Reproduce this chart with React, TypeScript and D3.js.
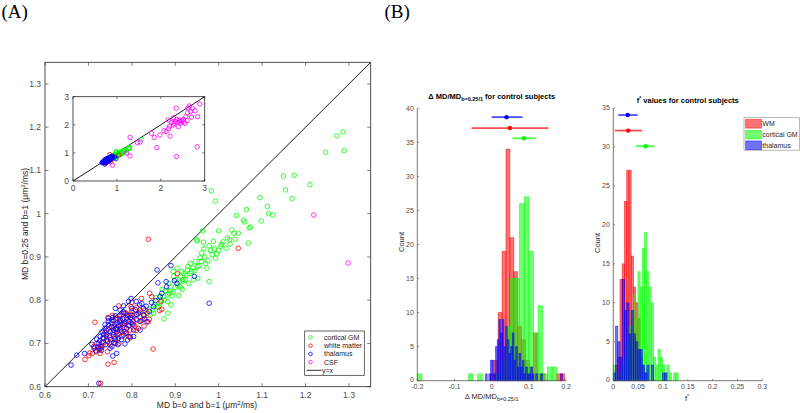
import React from 'react';
import * as d3 from 'd3';

type P = [number, number];

// ---------- Panel A: MD scatter data ----------
const corticalGM: P[] = [
  [1.286,1.189],[1.272,1.180],[1.289,1.146],[1.246,1.142],[1.174,1.089],[1.149,1.087],[1.210,1.067],[1.154,1.055],
  [1.169,1.035],[1.095,1.037],[0.983,1.053],[0.992,1.029],[1.112,1.017],[1.064,1.010],[1.115,1.000],[1.125,0.997],
  [1.041,0.996],[1.057,0.985],[1.060,0.981],[1.098,0.983],[1.073,0.969],[1.070,0.967],[1.000,0.960],[0.963,0.960],
  [1.030,0.962],[1.045,0.955],[1.068,0.932],[0.949,0.940],[0.988,0.936],[1.020,0.944],[1.038,0.941],[1.026,0.930],
  [1.017,0.920],[1.007,0.929],[0.978,0.926],[0.966,0.919],[0.981,0.915],[0.961,0.909],[0.995,0.908],[1.000,0.915],
  [0.957,0.898],[0.975,0.891],[0.993,0.897],[0.946,0.889],[0.935,0.885],[0.973,0.874],[0.952,0.878],[0.929,0.878],
  [0.915,0.867],[0.938,0.866],[0.925,0.858],[0.952,0.851],[0.912,0.855],[0.901,0.848],[0.978,0.843],[0.917,0.844],
  [0.906,0.833],[0.887,0.830],[0.916,0.825],[0.895,0.819],[0.908,0.811],[0.886,0.816],[0.877,0.822],[0.872,0.808],
  [0.882,0.797],[0.865,0.793],[0.855,0.806],[0.890,0.789],[0.862,0.785],[0.848,0.777],[0.883,0.770],[0.874,0.757],
  [0.840,0.780],[0.842,0.766],[0.828,0.764],[0.852,0.791],[0.870,0.825],[0.923,0.847],[0.931,0.839],[0.942,0.847],
  [0.951,0.937],[0.965,0.934],[0.896,0.855],[0.885,0.839],[0.889,0.822],[0.893,0.810],[0.900,0.830],[0.910,0.842],
  [0.920,0.862],[0.928,0.870],[0.934,0.862],[0.940,0.875],[0.945,0.868],[0.955,0.880],[0.960,0.890],[0.968,0.900],
  [0.970,0.885],[0.985,0.905],[0.990,0.920],[1.005,0.925],[1.010,0.935],[1.025,0.940],[1.035,0.955],[0.875,0.800],
  [0.882,0.812],[0.868,0.800],[0.858,0.785],[0.850,0.770],[0.865,0.810],[0.895,0.867],[0.904,0.874],[0.912,0.830],
  [0.918,0.848],[1.56,1.48],
];

const whiteMatter: P[] = [
  [0.838,0.941],[1.045,0.920],[0.905,0.861],[0.849,0.687],[0.715,0.749],[0.759,0.656],[0.745,0.652],[0.728,0.608],
  [0.692,0.663],[0.701,0.672],[0.709,0.677],[0.718,0.681],[0.725,0.685],[0.728,0.693],[0.744,0.681],[0.770,0.787],
  [0.841,0.816],[0.846,0.808],[0.867,0.797],[0.869,0.779],[0.864,0.776],[0.828,0.765],[0.840,0.756],[0.822,0.753],
  [0.838,0.750],[0.828,0.740],[0.798,0.785],[0.800,0.774],[0.810,0.767],[0.822,0.804],[0.785,0.750],[0.775,0.743],
  [0.782,0.737],[0.767,0.733],[0.758,0.754],[0.770,0.723],[0.777,0.716],[0.758,0.720],[0.749,0.714],[0.742,0.708],
  [0.735,0.702],[0.762,0.708],[0.770,0.700],[0.788,0.723],[0.796,0.731],[0.804,0.743],[0.812,0.754],[0.815,0.735],
  [0.794,0.764],[0.785,0.770],[0.775,0.764],[0.763,0.759],[0.754,0.739],[0.719,0.700],[0.712,0.693],[0.727,0.677],
  [0.750,0.696],[0.792,0.716],[0.800,0.759],[0.819,0.777],[0.835,0.770],[0.738,0.726],[0.745,0.733],[0.753,0.745],
  [0.758,0.738],[0.764,0.726],[0.767,0.748],[0.773,0.735],[0.778,0.745],[0.784,0.728],[0.789,0.754],[0.792,0.741],
  [0.797,0.768],[0.803,0.752],[0.807,0.740],[0.811,0.783],[0.818,0.772],[0.825,0.755],[0.830,0.777],[0.761,0.711],
  [0.749,0.702],[0.741,0.717],[0.733,0.695],[0.724,0.688],[0.715,0.692],[0.703,0.678],[0.787,0.770],[0.800,0.795],
  [0.755,0.765],[0.745,0.760],[0.773,0.758],[0.796,0.713],[0.810,0.730],
];

const thalamus: P[] = [
  [0.858,0.870],[0.890,0.880],[0.879,0.843],[0.880,0.831],[0.904,0.839],[0.944,0.855],[0.978,0.793],[0.869,0.816],
  [0.865,0.808],[0.855,0.799],[0.850,0.785],[0.840,0.774],[0.827,0.781],[0.818,0.789],[0.810,0.797],[0.800,0.781],
  [0.792,0.797],[0.781,0.787],[0.773,0.777],[0.782,0.770],[0.788,0.758],[0.773,0.754],[0.765,0.747],[0.762,0.764],
  [0.754,0.754],[0.746,0.743],[0.738,0.735],[0.731,0.727],[0.727,0.716],[0.735,0.712],[0.742,0.721],[0.750,0.727],
  [0.758,0.731],[0.765,0.735],[0.773,0.731],[0.781,0.743],[0.788,0.735],[0.798,0.747],[0.804,0.731],[0.812,0.767],
  [0.819,0.751],[0.796,0.716],[0.781,0.720],[0.769,0.712],[0.762,0.700],[0.750,0.689],[0.765,0.677],[0.756,0.671],
  [0.729,0.689],[0.723,0.700],[0.719,0.710],[0.731,0.702],[0.713,0.689],[0.708,0.698],[0.691,0.677],[0.673,0.673],
  [0.660,0.650],[0.724,0.608],[0.804,0.716],[0.790,0.708],[0.819,0.731],[0.827,0.766],[0.835,0.750],[0.798,0.804],
  [0.762,0.781],[0.746,0.758],[0.735,0.721],[0.741,0.730],[0.748,0.718],[0.752,0.738],[0.757,0.726],[0.761,0.745],
  [0.766,0.719],[0.769,0.740],[0.772,0.750],[0.776,0.728],[0.779,0.757],[0.783,0.746],[0.786,0.724],[0.789,0.765],
  [0.793,0.752],[0.744,0.705],[0.751,0.709],[0.759,0.702],[0.763,0.733],[0.738,0.744],[0.733,0.713],[0.726,0.706],
  [0.746,0.752],[0.756,0.760],[0.771,0.764],[0.781,0.773],[0.797,0.760],[0.802,0.745],[0.808,0.778],[0.815,0.770],
  [0.823,0.792],[0.833,0.786],[0.845,0.795],[0.754,0.693],[0.768,0.697],[0.739,0.697],[0.722,0.692],[0.717,0.683],
  [0.730,0.684],[0.776,0.709],[0.784,0.699],[0.794,0.741],[0.761,0.715],[0.800,0.765],[0.810,0.756],[0.829,0.757],
  [0.860,0.840],[0.898,0.845],
];

const CSF: P[] = [
  [1.219,0.997],[1.298,0.886],[2.35,2.59],[1.30,1.55],[1.47,1.36],[1.53,1.39],[1.79,1.70],[1.85,1.55],[1.91,1.19],
  [1.98,1.64],[2.07,1.79],[2.12,1.76],[2.18,1.87],[2.21,1.60],[2.25,2.08],[2.29,1.99],[2.33,2.11],[2.36,2.19],
  [2.39,2.08],[2.42,2.17],[2.45,2.05],[2.48,2.14],[2.51,2.19],[2.55,2.05],[2.57,2.29],[2.61,2.43],[2.65,2.67],
  [2.68,2.47],[2.72,2.59],[2.78,2.50],[2.84,2.29],[2.89,2.74],[2.83,1.22],[2.36,0.87],[2.29,2.25],[2.40,1.93],
  [2.70,2.27],[2.17,2.17],[0.90,0.56],[2.44,2.12],[2.52,2.10],[2.60,2.15],[2.30,2.05],[2.20,1.95],[2.62,2.60],
];

const mainTicks = [0.6, 0.7, 0.8, 0.9, 1, 1.1, 1.2, 1.3];
const insetTicks = [0, 1, 2, 3];
const legendA = ['cortical GM', 'white matter', 'thalamus', 'CSF', 'y=x'];

// ---------- Panel B: histograms ----------
// left: ΔMD/MD
const dRedStart = -0.0035, dRedWidth = 0.0105;
const dRedCounts = [1,3,10,19,34,21,16,8,6,3,2,7,1,1,0,0,0,1,1];
const dGreenStart = -0.2, dGreenWidth = 0.0125;
const dGreenCounts = [1,0,0,0,0,0,0,0,0,0,0,1,0,1,0,0,0,1,3,8,15,15,26,27,19,7,11,1,2,2,0,0];
const dBlueStart = -0.0165, dBlueWidth = 0.0045;
const dBlueCounts = [1,0,1,3,3,1,5,6,9,7,9,5,8,6,4,5,7,3,5,2,4,2,3,1,2,1,1,2,1,0,1,0,0,1,0,0,0,0,0,0,0,0,0,0,0,1];
// mean ± sd markers: [mean, lo, hi, yLevel]
const dRedSummary = [0.049, -0.054, 0.153, 37.1];
const dGreenSummary = [0.087, 0.056, 0.119, 35.6];
const dBlueSummary = [0.040, 0.0, 0.083, 38.7];
const dXTicks = [-0.2, -0.1, 0, 0.1, 0.2];
const dYTicks = [0, 5, 10, 15, 20, 25, 30, 35, 40];

// right: f*
const fStart = 0, fWidth = 0.0045;
const fRedCounts = [0,2,3,13,15,23,27,27,16,12,10,8,3,2,1];
const fGreenCounts = [2,1,0,1,2,3,5,7,9,11,8,14,12,17,19,14,12,10,3,2,4,3,2,1,2,1,0,1,1];
const fBlueCounts = [1,7,5,3,13,9,10,6,9,6,5,4,4,2,1,2,0,2,0,0,0,0,1,1];
const fRedSummary = [0.030, 0.003, 0.058, 32.1];
const fGreenSummary = [0.065, 0.045, 0.083, 30.1];
const fBlueSummary = [0.029, 0.010, 0.049, 34.1];
const fXTicks = [0, 0.05, 0.1, 0.15, 0.2, 0.25, 0.3];
const fYTicks = [0, 5, 10, 15, 20, 25, 30, 35];
const legendB = ['WM', 'cortical GM', 'thalamus'];

const FONT = '"Liberation Sans", Arial, Helvetica, sans-serif';
const AX = '#262626';
const TICKC = '#4d4d4d';
const C = { g: '#00ff00', r: '#ff0000', b: '#0000ff', m: '#ff00ff' };

const fmt = (v: number) => String(+v.toFixed(2));

function Scatter({ pts, color, xs, ys, r }: any) {
  return (
    <g>
      {pts.map((p: P, i: number) => (
        <circle key={i} cx={xs(p[0])} cy={ys(p[1])} r={r} fill="none" stroke={color} strokeWidth={0.8} />
      ))}
    </g>
  );
}

function BoxAxes({ xs, ys, xt, yt, tickLen, fs, xlabOff, ylabOff }: any) {
  const [x0, x1] = xs.range();
  const [y0, y1] = ys.range();
  return (
    <g fontFamily={FONT} fontSize={fs} fill={TICKC}>
      {xt.map((t: number) => (
        <g key={'x' + t}>
          <line x1={xs(t)} x2={xs(t)} y1={y0} y2={y0 - tickLen} stroke={AX} strokeWidth={0.6} />
          <line x1={xs(t)} x2={xs(t)} y1={y1} y2={y1 + tickLen} stroke={AX} strokeWidth={0.6} />
          <text x={xs(t)} y={y0 + xlabOff} textAnchor="middle">{fmt(t)}</text>
        </g>
      ))}
      {yt.map((t: number) => (
        <g key={'y' + t}>
          <line x1={x0} x2={x0 + tickLen} y1={ys(t)} y2={ys(t)} stroke={AX} strokeWidth={0.6} />
          <line x1={x1} x2={x1 - tickLen} y1={ys(t)} y2={ys(t)} stroke={AX} strokeWidth={0.6} />
          <text x={x0 - ylabOff} y={ys(t)} dy="0.35em" textAnchor="end">{fmt(t)}</text>
        </g>
      ))}
      <rect x={x0} y={y1} width={x1 - x0} height={y0 - y1} fill="none" stroke={AX} strokeWidth={0.8} />
    </g>
  );
}

function Hist({ start, width, counts, color, xs, ys }: any) {
  return (
    <g>
      {counts.map((c: number, i: number) => {
        const a = xs(start + i * width);
        const b = xs(start + (i + 1) * width);
        return (
          <rect key={i} x={a} y={ys(c)} width={b - a} height={ys(0) - ys(c)}
            fill={color} fillOpacity={0.55} stroke={color} strokeOpacity={0.6} strokeWidth={0.8} />
        );
      })}
    </g>
  );
}

function Summary({ s, color, xs, ys }: any) {
  const [m, lo, hi, lev] = s;
  return (
    <g>
      <line x1={xs(lo)} x2={xs(hi)} y1={ys(lev)} y2={ys(lev)} stroke={color} strokeOpacity={0.7} strokeWidth={1.8} />
      <circle cx={xs(m)} cy={ys(lev)} r={2.2} fill={color} />
    </g>
  );
}

function HistAxes({ xs, ys, xt, yt }: any) {
  const [x0, x1] = xs.range();
  const [y0, y1] = ys.range();
  return (
    <g fontFamily={FONT} fontSize={7} fill={TICKC}>
      <line x1={x0} x2={x0} y1={y0} y2={y1} stroke="#555" strokeWidth={0.8} />
      <line x1={x0} x2={x1} y1={y0} y2={y0} stroke="#555" strokeWidth={0.8} />
      {xt.map((t: number) => (
        <g key={'x' + t}>
          <line x1={xs(t)} x2={xs(t)} y1={y0} y2={y0 - 2} stroke="#555" strokeWidth={0.6} />
          <text x={xs(t)} y={y0 + 8.5} textAnchor="middle">{fmt(t)}</text>
        </g>
      ))}
      {yt.map((t: number) => (
        <g key={'y' + t}>
          <line x1={x0} x2={x0 + 2} y1={ys(t)} y2={ys(t)} stroke="#555" strokeWidth={0.6} />
          <text x={x0 - 3.5} y={ys(t) - (t === 0 ? 1.5 : 0)} dy="0.35em" textAnchor="end">{fmt(t)}</text>
        </g>
      ))}
    </g>
  );
}

export default function App() {
  // Panel A scales
  const xs = d3.scaleLinear().domain([0.6, 1.35]).range([45, 370.7]);
  const ys = d3.scaleLinear().domain([0.6, 1.35]).range([386.7, 62.3]);
  const xi = d3.scaleLinear().domain([0, 3]).range([73, 204.7]);
  const yi = d3.scaleLinear().domain([0, 3]).range([181, 96.7]);
  // Panel B scales
  const xL = d3.scaleLinear().domain([-0.2, 0.2]).range([417.3, 566]);
  const yL = d3.scaleLinear().domain([0, 40]).range([380.7, 108.3]);
  const xR = d3.scaleLinear().domain([0, 0.3]).range([613.3, 762.3]);
  const yR = d3.scaleLinear().domain([0, 35]).range([380.7, 108]);

  const groups = [
    { pts: corticalGM, color: C.g },
    { pts: whiteMatter, color: C.r },
    { pts: thalamus, color: C.b },
    { pts: CSF, color: C.m },
  ];
  const legColors = [C.g, C.r, C.b, C.m];
  const legY = [337.3, 345.7, 353.9, 362.1, 370.3];
  const legBY = [123.8, 134.7, 145.3];
  const legBColors = [C.r, C.g, C.b];

  return (
    <svg width={800} height={413} style={{ position: 'absolute', left: 0, top: 0, background: '#fff' }}
      fontFamily={FONT}>
      <rect x={0} y={0} width={800} height={413} fill="#fff" />
      <defs>
        <clipPath id="clipMain"><rect x={45} y={62.3} width={325.7} height={324.4} /></clipPath>
        <clipPath id="clipInset"><rect x={73} y={96.7} width={131.7} height={84.3} /></clipPath>
      </defs>

      {/* Panel labels */}
      <text x={1.5} y={18} fontFamily='"Liberation Serif", "Times New Roman", serif' fontSize={19} fill="#000">(A)</text>
      <text x={384.5} y={18} fontFamily='"Liberation Serif", "Times New Roman", serif' fontSize={19} fill="#000">(B)</text>

      {/* ---------- Panel A main ---------- */}
      <g clipPath="url(#clipMain)">
        <line x1={xs(0.6)} y1={ys(0.6)} x2={xs(1.35)} y2={ys(1.35)} stroke="#000" strokeWidth={0.9} />
        {groups.map((g, i) => <Scatter key={i} pts={g.pts} color={g.color} xs={xs} ys={ys} r={2.3} />)}
      </g>
      <BoxAxes xs={xs} ys={ys} xt={mainTicks} yt={mainTicks} tickLen={3.5} fs={8.5} xlabOff={11} ylabOff={4} />
      <text x={207} y={408} textAnchor="middle" fontSize={8.5} fill="#262626">
        MD b=0 and b=1 (μm<tspan dy={-3} fontSize={6}>2</tspan><tspan dy={3}>/ms)</tspan>
      </text>
      <text transform="translate(28,224) rotate(-90)" textAnchor="middle" fontSize={8.5} fill="#262626">
        MD b=0.25 and b=1 (μm<tspan dy={-3} fontSize={6}>2</tspan><tspan dy={3}>/ms)</tspan>
      </text>

      {/* inset */}
      <rect x={73} y={96.7} width={131.7} height={84.3} fill="#fff" />
      <g clipPath="url(#clipInset)">
        <line x1={xi(0)} y1={yi(0)} x2={xi(3)} y2={yi(3)} stroke="#000" strokeWidth={0.9} />
        {groups.map((g, i) => <Scatter key={i} pts={g.pts} color={g.color} xs={xi} ys={yi} r={2.2} />)}
      </g>
      <BoxAxes xs={xi} ys={yi} xt={insetTicks} yt={insetTicks} tickLen={2.5} fs={8.5} xlabOff={10} ylabOff={4} />

      {/* legend A */}
      <g fontSize={7} fill="#262626">
        <rect x={304.7} y={331} width={59.6} height={44.3} fill="#fff" stroke={AX} strokeWidth={0.7} />
        {legendA.map((name, i) => (
          <g key={name}>
            {i < 4
              ? <circle cx={310.5} cy={legY[i]} r={1.8} fill="none" stroke={legColors[i]} strokeWidth={0.8} />
              : <line x1={306.5} x2={321.5} y1={legY[i]} y2={legY[i]} stroke="#000" strokeWidth={0.8} />}
            <text x={i < 4 ? 324 : 322} y={legY[i]} dy="0.35em">{name}</text>
          </g>
        ))}
      </g>

      {/* ---------- Panel B left ---------- */}
      <Hist start={dRedStart} width={dRedWidth} counts={dRedCounts} color={C.r} xs={xL} ys={yL} />
      <Hist start={dGreenStart} width={dGreenWidth} counts={dGreenCounts} color={C.g} xs={xL} ys={yL} />
      <Hist start={dBlueStart} width={dBlueWidth} counts={dBlueCounts} color={C.b} xs={xL} ys={yL} />
      <HistAxes xs={xL} ys={yL} xt={dXTicks} yt={dYTicks} />
      <Summary s={dBlueSummary} color={C.b} xs={xL} ys={yL} />
      <Summary s={dRedSummary} color={C.r} xs={xL} ys={yL} />
      <Summary s={dGreenSummary} color={C.g} xs={xL} ys={yL} />
      <text x={491.7} y={99} textAnchor="middle" fontSize={7.5} fontWeight="bold" fill="#000">
        Δ MD/MD<tspan dy={2} fontSize={5.5}>b=0.25/1</tspan><tspan dy={-2}> for control subjects</tspan>
      </text>
      <text x={491.7} y={399} textAnchor="middle" fontSize={7.5} fill="#262626">
        Δ MD/MD<tspan dy={2} fontSize={5.5}>b=0.25/1</tspan>
      </text>
      <text transform="translate(404,242) rotate(-90)" textAnchor="middle" fontSize={7.5} fill="#262626">Count</text>

      {/* ---------- Panel B right ---------- */}
      <Hist start={fStart} width={fWidth} counts={fRedCounts} color={C.r} xs={xR} ys={yR} />
      <Hist start={fStart} width={fWidth} counts={fGreenCounts} color={C.g} xs={xR} ys={yR} />
      <Hist start={fStart} width={fWidth} counts={fBlueCounts} color={C.b} xs={xR} ys={yR} />
      <HistAxes xs={xR} ys={yR} xt={fXTicks} yt={fYTicks} />
      <Summary s={fBlueSummary} color={C.b} xs={xR} ys={yR} />
      <Summary s={fRedSummary} color={C.r} xs={xR} ys={yR} />
      <Summary s={fGreenSummary} color={C.g} xs={xR} ys={yR} />
      <text x={687.8} y={102.7} textAnchor="middle" fontSize={7.5} fontWeight="bold" fill="#000">
        f<tspan dy={-3} fontSize={5}>*</tspan><tspan dy={3}> values for control subjects</tspan>
      </text>
      <text x={687} y={401} textAnchor="middle" fontSize={7.5} fill="#262626">
        f<tspan dy={-3} fontSize={5}>*</tspan>
      </text>
      <text transform="translate(600,243) rotate(-90)" textAnchor="middle" fontSize={7.5} fill="#262626">Count</text>

      {/* legend B */}
      <g fontSize={7} fill="#262626">
        <rect x={744} y={117.7} width={55.5} height={32.5} fill="#fff" stroke="#999" strokeWidth={0.7} />
        {legendB.map((name, i) => (
          <g key={name}>
            <rect x={745.7} y={legBY[i] - 4.3} width={15.8} height={8.6} fill={legBColors[i]} fillOpacity={0.55}
              stroke={legBColors[i]} strokeOpacity={0.6} strokeWidth={0.8} />
            <text x={762.3} y={legBY[i]} dy="0.35em">{name}</text>
          </g>
        ))}
      </g>
    </svg>
  );
}
